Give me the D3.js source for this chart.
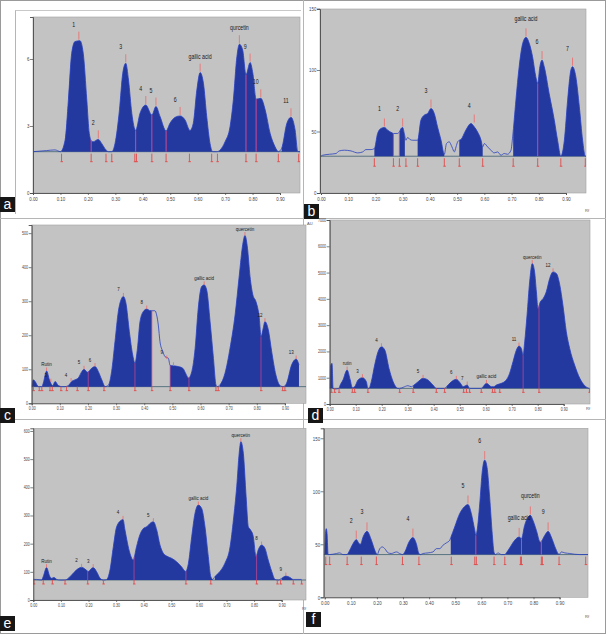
<!DOCTYPE html>
<html>
<head>
<meta charset="utf-8">
<script src="https://cdn.jsdelivr.net/npm/d3@7"></script>
<style>
  body { margin: 0; background: #fff; }
  svg { display: block; }
  text { font-family: "Liberation Sans", Arial, sans-serif; }
</style>
</head>
<body>
<svg id="chart" width="606" height="634"></svg>
<script>
// Rf ticks shared by all six densitograms
const rfTicks = [0, 0.1, 0.2, 0.3, 0.4, 0.5, 0.6, 0.7, 0.8, 0.9];
const rfLabels = ["0.00", "0.10", "0.20", "0.30", "0.40", "0.50", "0.60", "0.70", "0.80", "0.90"];

// ---- panel a ----
const aBase = 18.5;
const aTrace = [[0,18.5],[0.05,19.0],[0.08,19.3],[0.10,18.5],[0.117,23.7],[0.129,41.7],[0.141,62.6],[0.153,67.8],[0.171,68.2],[0.183,62.6],[0.196,41.7],[0.205,26.7],[0.214,23.0],[0.220,23.0],[0.238,24.0],[0.250,22.2],[0.266,19.3],[0.275,18.5],[0.287,18.5],[0.299,22.2],[0.315,37.2],[0.327,53.6],[0.338,58.1],[0.348,50.6],[0.360,35.7],[0.374,28.0],[0.390,35.7],[0.411,39.4],[0.433,34.9],[0.448,38.7],[0.463,34.2],[0.485,27.8],[0.499,31.2],[0.518,33.9],[0.536,34.5],[0.554,32.7],[0.572,28.0],[0.584,31.2],[0.597,46.1],[0.609,53.9],[0.621,49.1],[0.633,34.2],[0.645,22.2],[0.655,18.5],[0.670,18.5],[0.682,19.3],[0.700,23.0],[0.718,29.7],[0.730,41.7],[0.743,61.1],[0.752,66.6],[0.764,64.0],[0.776,52.9],[0.791,58.4],[0.801,53.6],[0.813,42.0],[0.830,42.4],[0.846,37.2],[0.864,26.7],[0.882,20.7],[0.894,18.5],[0.906,20.0],[0.925,31.2],[0.940,33.9],[0.955,28.2],[0.965,18.5],[0.973,18.5]];
const aFills = [[0.104,0.275],[0.287,0.655],[0.676,0.894],[0.906,0.965]];
const aMarks = [0.104,0.212,0.266,0.287,0.371,0.377,0.433,0.485,0.570,0.651,0.672,0.776,0.813,0.894,0.968];
const aSplits = [0.212,0.374,0.433,0.485,0.776,0.813];
const aPeaks = [[0.167,68.2,"1"],[0.238,24.0,"2"],[0.338,58.1,"3"],[0.411,39.4,"4"],[0.448,38.7,"5"],[0.536,34.5,"6"],[0.609,53.9,"gallic acid"],[0.752,66.6,"qurcetin"],[0.791,58.4,"9"],[0.830,42.4,"10"],[0.940,33.9,"11"]];
const aYTicks = [0, 30, 60];
const aYLabels = ["0", "3", "6"];

// ---- panel b ----
const bBase = 29.9;
const bTrace = [[0,29.9],[0.006,30.7],[0.031,31.5],[0.055,32.1],[0.067,34.2],[0.086,34.8],[0.110,34.2],[0.135,32.6],[0.153,33.4],[0.165,35.3],[0.184,35.3],[0.196,36.1],[0.208,48.4],[0.220,52.4],[0.233,53.3],[0.245,51.1],[0.261,48.9],[0.266,48.4],[0.282,48.4],[0.288,49.7],[0.294,52.4],[0.300,53.3],[0.306,48.4],[0.312,42.9],[0.318,45.1],[0.327,43.5],[0.337,42.9],[0.349,42.9],[0.355,42.9],[0.367,59.2],[0.379,63.3],[0.392,64.7],[0.404,68.7],[0.416,64.7],[0.428,53.8],[0.441,42.9],[0.453,31.5],[0.461,40.2],[0.471,41.6],[0.481,37.5],[0.490,33.4],[0.496,37.5],[0.502,41.6],[0.508,42.9],[0.514,43.5],[0.532,51.1],[0.551,56.5],[0.563,53.8],[0.575,49.7],[0.588,42.9],[0.594,37.5],[0.600,40.2],[0.612,37.5],[0.624,34.8],[0.636,32.6],[0.649,33.4],[0.661,30.7],[0.673,32.1],[0.685,31.5],[0.698,34.8],[0.704,45.6],[0.716,75.5],[0.728,102.7],[0.741,121.7],[0.753,126.6],[0.765,121.7],[0.777,110.9],[0.789,94.6],[0.796,89.1],[0.804,102.7],[0.812,108.1],[0.820,102.7],[0.838,81.0],[0.857,59.2],[0.869,42.9],[0.881,29.9],[0.894,42.9],[0.906,75.5],[0.918,100.0],[0.924,102.7],[0.936,94.6],[0.949,70.1],[0.961,42.9],[0.971,29.9],[0.973,29.9]];
const bFills = [[0.196,0.266],[0.288,0.308],[0.355,0.453],[0.508,0.594],[0.706,0.971]];
const bMarks = [0.196,0.266,0.288,0.312,0.355,0.453,0.508,0.594,0.706,0.796,0.881,0.971];
const bSplits = [0.266,0.288,0.796];
const bPeaks = [[0.233,53.3,"1"],[0.300,53.3,"2"],[0.404,68.7,"3"],[0.563,56.5,"4"],[0.753,126.6,"gallic acid"],[0.812,108.1,"6"],[0.924,102.7,"7"]];
const bYTicks = [0, 50, 100, 150];
const bYLabels = ["0", "50", "100", "150"];

// ---- panel c ----
const cBase = 49;
const cTrace = [[0,49],[0.006,69],[0.012,64],[0.024,49],[0.036,49],[0.041,59],[0.053,95],[0.063,69],[0.068,59],[0.075,52],[0.083,64],[0.095,52],[0.107,49],[0.118,49],[0.130,52],[0.142,64],[0.154,69],[0.166,75],[0.178,93],[0.186,100],[0.198,91],[0.213,103],[0.225,108],[0.237,93],[0.249,69],[0.261,49],[0.273,54],[0.284,93],[0.296,181],[0.308,270],[0.320,309],[0.326,314],[0.335,294],[0.347,211],[0.359,142],[0.367,118],[0.376,162],[0.385,240],[0.397,270],[0.409,277],[0.418,273],[0.427,272],[0.438,272],[0.444,260],[0.450,230],[0.456,181],[0.466,152],[0.474,137],[0.486,132],[0.492,111],[0.504,110],[0.521,108],[0.537,103],[0.549,85],[0.557,74],[0.569,93],[0.581,162],[0.592,279],[0.604,343],[0.613,348],[0.622,333],[0.634,240],[0.646,132],[0.655,54],[0.660,49],[0.669,54],[0.687,88],[0.705,162],[0.723,260],[0.738,377],[0.750,466],[0.758,493],[0.767,456],[0.776,373],[0.786,319],[0.797,299],[0.809,250],[0.815,196],[0.823,221],[0.829,240],[0.841,216],[0.853,152],[0.868,83],[0.883,52],[0.895,49],[0.906,59],[0.924,113],[0.940,130],[0.950,113]];
const cFills = [[0,0.107],[0.130,0.261],[0.273,0.427],[0.492,0.655],[0.669,0.883],[0.900,0.960]];
const cMarks = [0.006,0.027,0.036,0.065,0.073,0.104,0.124,0.162,0.201,0.257,0.367,0.427,0.492,0.559,0.655,0.663,0.815,0.892,0.900];
const cSplits = [0.201,0.367,0.427,0.492,0.559,0.815];
const cPeaks = [[0.053,95,"Rutin"],[0.068,62,"3"],[0.140,64,"4"],[0.186,100,"5"],[0.225,108,"6"],[0.326,314,"7"],[0.409,277,"8"],[0.480,130,"9"],[0.504,110,""],[0.613,348,"gallic acid"],[0.758,493,"quercetin"],[0.829,240,"12"],[0.940,130,"13"]];
const cYTicks = [0, 100, 200, 300, 400, 500];
const cYLabels = ["0", "100", "200", "300", "400", "500"];

// ---- panel d ----
const dBase = 595;
const dTrace = [[0,595],[0.004,1481],[0.009,1545],[0.013,595],[0.019,570],[0.036,595],[0.038,658],[0.051,912],[0.067,1291],[0.079,912],[0.087,620],[0.096,658],[0.109,912],[0.126,1000],[0.141,848],[0.147,595],[0.151,595],[0.160,848],[0.173,1481],[0.186,1988],[0.199,2178],[0.212,2051],[0.228,1355],[0.244,848],[0.263,595],[0.269,595],[0.282,633],[0.301,696],[0.314,658],[0.321,696],[0.340,848],[0.359,975],[0.378,912],[0.397,722],[0.410,595],[0.423,595],[0.442,595],[0.449,658],[0.468,848],[0.487,937],[0.503,785],[0.513,658],[0.522,696],[0.529,722],[0.538,595],[0.551,595],[0.583,595],[0.590,658],[0.603,785],[0.622,658],[0.631,658],[0.641,722],[0.660,785],[0.679,912],[0.692,1165],[0.705,1608],[0.718,2051],[0.728,2203],[0.737,2114],[0.744,1861],[0.750,2367],[0.759,3380],[0.769,4646],[0.779,5343],[0.788,5026],[0.795,4266],[0.801,3633],[0.810,3887],[0.821,4013],[0.833,4266],[0.846,4773],[0.859,5026],[0.872,4963],[0.885,4520],[0.897,3760],[0.910,2747],[0.923,2114],[0.942,1481],[0.962,975],[0.981,696],[0.997,595]];
const dFills = [[0,0.013],[0.036,0.147],[0.151,0.263],[0.321,0.410],[0.449,0.538],[0.583,0.997]];
const dMarks = [0.006,0.019,0.036,0.087,0.096,0.147,0.269,0.321,0.410,0.442,0.515,0.526,0.538,0.583,0.626,0.635,0.654,0.744,0.805,0.999];
const dSplits = [0.744,0.805];
const dPeaks = [[0.067,1291,"rutin"],[0.126,1000,"3"],[0.199,2178,"4"],[0.359,975,"5"],[0.487,937,"6"],[0.529,722,"7"],[0.603,785,"gallic acid"],[0.728,2203,"11"],[0.779,5343,"quercetin"],[0.859,5026,"12"]];
const dYTicks = [0, 1000, 2000, 3000, 4000, 5000, 6000, 7000];
const dYLabels = ["0", "1000", "2000", "3000", "4000", "5000", "6000", "7000"];

// ---- panel e ----
const eBase = 71;
const eTrace = [[0,73],[0.012,73],[0.030,71],[0.036,83],[0.048,115],[0.060,83],[0.066,77],[0.075,80],[0.085,73],[0.097,71],[0.115,71],[0.121,73],[0.139,89],[0.157,107],[0.175,116],[0.191,107],[0.199,101],[0.211,112],[0.217,115],[0.229,101],[0.242,77],[0.254,71],[0.266,73],[0.278,107],[0.290,189],[0.302,260],[0.320,284],[0.325,286],[0.332,249],[0.350,166],[0.362,142],[0.374,189],[0.386,231],[0.399,254],[0.411,260],[0.423,272],[0.435,278],[0.447,249],[0.459,195],[0.471,166],[0.483,156],[0.501,148],[0.519,136],[0.537,118],[0.552,101],[0.562,130],[0.574,225],[0.586,308],[0.598,337],[0.610,325],[0.622,260],[0.634,154],[0.643,83],[0.650,73],[0.658,83],[0.676,101],[0.694,130],[0.713,189],[0.725,284],[0.737,402],[0.746,521],[0.752,562],[0.761,521],[0.771,367],[0.779,260],[0.787,249],[0.797,225],[0.807,154],[0.815,178],[0.827,195],[0.839,184],[0.851,142],[0.864,101],[0.876,73],[0.888,71],[0.900,77],[0.915,85],[0.930,80],[0.942,73],[0.972,73]];
const eFills = [[0.030,0.085],[0.115,0.254],[0.266,0.650],[0.658,0.888],[0.900,0.942]];
const eMarks = [0.002,0.036,0.069,0.115,0.197,0.254,0.365,0.553,0.643,0.809,0.884,0.896,0.942,0.972];
const eSplits = [0.197,0.365,0.553,0.809];
const ePeaks = [[0.048,115,"Rutin"],[0.175,116,"2"],[0.217,115,"3"],[0.325,286,"4"],[0.435,278,"5"],[0.598,337,"gallic acid"],[0.752,562,"quercetin"],[0.827,195,"8"],[0.915,85,"9"]];
const eYTicks = [0, 100, 200, 300, 400, 500, 600];
const eYLabels = ["0", "100", "200", "300", "400", "500", "600"];

// ---- panel f ----
const fBase = 40.3;
const fTrace = [[0,40.3],[0.004,63.1],[0.006,64.7],[0.009,60.0],[0.013,40.3],[0.019,40.3],[0.045,41.3],[0.057,41.9],[0.070,40.3],[0.086,40.3],[0.089,41.3],[0.102,47.5],[0.115,53.1],[0.121,54.4],[0.132,50.6],[0.137,50.0],[0.147,56.9],[0.162,62.2],[0.179,53.8],[0.192,44.4],[0.201,40.3],[0.211,45.9],[0.221,47.5],[0.230,45.9],[0.243,41.9],[0.255,41.3],[0.275,42.8],[0.287,41.3],[0.298,40.3],[0.307,42.8],[0.323,52.2],[0.338,56.3],[0.351,50.6],[0.361,41.3],[0.367,40.3],[0.377,41.3],[0.396,41.9],[0.415,42.8],[0.428,45.9],[0.441,45.9],[0.453,49.1],[0.466,51.3],[0.479,53.8],[0.483,56.3],[0.498,66.3],[0.517,78.8],[0.536,85.6],[0.549,87.5],[0.562,78.8],[0.575,63.1],[0.579,58.4],[0.584,63.1],[0.594,88.1],[0.604,119.4],[0.613,129.4],[0.622,122.5],[0.632,94.4],[0.642,59.4],[0.649,42.2],[0.655,40.3],[0.664,41.9],[0.677,40.3],[0.690,40.3],[0.696,41.9],[0.711,47.5],[0.728,53.8],[0.745,56.9],[0.754,55.3],[0.766,67.8],[0.779,75.6],[0.788,77.2],[0.798,72.5],[0.811,63.1],[0.826,51.9],[0.843,58.4],[0.856,62.2],[0.868,56.9],[0.885,45.9],[0.898,40.3],[0.907,42.8],[0.920,41.9],[0.939,41.3],[0.958,40.6],[0.977,40.3],[1.009,40.3]];
const fFills = [[0,0.013],[0.086,0.201],[0.298,0.367],[0.483,0.655],[0.690,0.898]];
const fMarks = [0.004,0.019,0.086,0.140,0.198,0.298,0.361,0.485,0.575,0.581,0.649,0.690,0.750,0.754,0.830,0.834,0.898,1.0];
const fSplits = [0.579,0.754,0.830];
const fPeaks = [[0.121,54.4,"2"],[0.162,62.2,"3"],[0.338,56.3,"4"],[0.549,87.5,"5"],[0.613,129.4,"6"],[0.745,56.9,"gallic acid"],[0.788,77.2,"qurcetin"],[0.856,62.2,"9"]];
const fYTicks = [0, 50, 100, 150];
const fYLabels = ["0", "50", "100", "150"];

// Page geometry for each panel (pixels)
const panels = [
  {id: 'a', trace: aTrace, base: aBase, fills: aFills, marks: aMarks, splits: aSplits, peaks: aPeaks, yTicks: aYTicks, yLabels: aYLabels,
   box: {left: 33, right: 300, top: 17, bottom: 193, x0: 33, x90: 280, yTop: 78.8, tag: [0, 197], lift: 14, big: true}},
  {id: 'b', trace: bTrace, base: bBase, fills: bFills, marks: bMarks, splits: bSplits, peaks: bPeaks, yTicks: bYTicks, yLabels: bYLabels,
   box: {left: 320, right: 586, top: 9, bottom: 193, x0: 321, x90: 566, yTop: 149.6, tag: [304, 204], lift: 16, big: true, rf: [585, 212]}},
  {id: 'c', trace: cTrace, base: cBase, fills: cFills, marks: cMarks, splits: cSplits, peaks: cPeaks, yTicks: cYTicks, yLabels: cYLabels,
   box: {left: 31.7, right: 306, top: 225, bottom: 403.3, x0: 31.7, x90: 284.9, yTop: 524, tag: [0, 408], lift: 5, big: false}},
  {id: 'd', trace: dTrace, base: dBase, fills: dFills, marks: dMarks, splits: dSplits, peaks: dPeaks, yTicks: dYTicks, yLabels: dYLabels,
   box: {left: 329.7, right: 590, top: 220, bottom: 404, x0: 329.7, x90: 563.7, yTop: 7000, tag: [308, 408], lift: 5, big: false, rf: [586, 410], au: [307, 225]}},
  {id: 'e', trace: eTrace, base: eBase, fills: eFills, marks: eMarks, splits: eSplits, peaks: ePeaks, yTicks: eYTicks, yLabels: eYLabels,
   box: {left: 33.3, right: 306, top: 428.3, bottom: 600, x0: 33.3, x90: 281.7, yTop: 609.5, tag: [0, 616], lift: 5, big: false, rf: [302, 610]}},
  {id: 'f', trace: fTrace, base: fBase, fills: fFills, marks: fMarks, splits: fSplits, peaks: fPeaks, yTicks: fYTicks, yLabels: fYLabels,
   box: {left: 323.7, right: 588, top: 428.3, bottom: 597.3, x0: 324.7, x90: 559.6, yTop: 159.4, tag: [306, 612], lift: 17, big: true, rf: [585, 618]}}
];

const svg = d3.select('#chart');
const defs = svg.append('defs');

// figure frame and panel separators
svg.append('rect').attr('x', 0.5).attr('y', 0.5).attr('width', 605).attr('height', 633)
  .attr('fill', '#fff').attr('stroke', '#9a9a9a');
svg.append('line').attr('x1', 303.5).attr('x2', 303.5).attr('y1', 0).attr('y2', 634).attr('stroke', '#b5b5b5');
[218.5, 419.5].forEach(yy => {
  svg.append('line').attr('x1', 0).attr('x2', 606).attr('y1', yy).attr('y2', yy).attr('stroke', '#b5b5b5');
});
svg.append('line').attr('x1', 15.5).attr('x2', 15.5).attr('y1', 10).attr('y2', 214).attr('stroke', '#b5b5b5');
svg.append('line').attr('x1', 15.5).attr('x2', 301).attr('y1', 10.5).attr('y2', 10.5).attr('stroke', '#c8c8c8');

panels.forEach(drawPanel);

function valueAt(trace, rf) {
  const i = d3.bisector(d => d[0]).left(trace, rf);
  if (i <= 0) return trace[0][1];
  if (i >= trace.length) return trace[trace.length - 1][1];
  const p = trace[i - 1], q = trace[i];
  return p[1] + (q[1] - p[1]) * (rf - p[0]) / (q[0] - p[0]);
}

function drawPanel(p) {
  const L = p.box;
  const g = svg.append('g').attr('class', 'panel-' + p.id);

  const x = d3.scaleLinear().domain([0, 0.9]).range([L.x0, L.x90]);
  const y = d3.scaleLinear().domain([0, L.yTop]).range([L.bottom, L.top]);
  const yb = y(p.base);

  // grey plotting area
  g.append('rect')
    .attr('x', L.left).attr('y', L.top)
    .attr('width', L.right - L.left).attr('height', L.bottom - L.top)
    .attr('fill', '#c3c3c3').attr('stroke', '#a0a0a0').attr('stroke-width', 0.6);

  defs.append('clipPath').attr('id', 'plot-' + p.id)
    .append('rect')
    .attr('x', L.left).attr('y', L.top)
    .attr('width', L.right - L.left).attr('height', L.bottom - L.top);

  // only integrated peaks are filled
  defs.append('clipPath').attr('id', 'fill-' + p.id)
    .selectAll('rect')
    .data(p.fills)
    .join('rect')
    .attr('x', d => x(d[0]))
    .attr('width', d => x(d[1]) - x(d[0]))
    .attr('y', L.top)
    .attr('height', L.bottom - L.top);

  const inner = g.append('g').attr('clip-path', `url(#plot-${p.id})`);

  const area = d3.area()
    .x(d => x(d[0]))
    .y0(yb)
    .y1(d => y(d[1]))
    .curve(d3.curveMonotoneX);

  const line = d3.line()
    .x(d => x(d[0]))
    .y(d => y(d[1]))
    .curve(d3.curveMonotoneX);

  // baseline
  inner.append('line')
    .attr('x1', L.left).attr('x2', L.right)
    .attr('y1', yb).attr('y2', yb)
    .attr('stroke', '#3f6170').attr('stroke-width', 0.8);

  inner.append('g').attr('clip-path', `url(#fill-${p.id})`)
    .append('path')
    .datum(p.trace)
    .attr('d', area)
    .attr('fill', '#24399f');

  inner.append('path')
    .datum(p.trace)
    .attr('d', line)
    .attr('fill', 'none')
    .attr('stroke', '#2840c0')
    .attr('stroke-width', 0.8);

  // peak separators
  inner.selectAll('.split')
    .data(p.splits)
    .join('line')
    .attr('class', 'split')
    .attr('x1', d => x(d)).attr('x2', d => x(d))
    .attr('y1', yb)
    .attr('y2', d => y(valueAt(p.trace, d)))
    .attr('stroke', '#d0488e')
    .attr('stroke-width', L.big ? 1 : 0.7);

  // start / end marks below the baseline
  const m0 = L.big ? 2 : 0, m1 = L.big ? 10 : 4;
  const marks = inner.selectAll('.mark')
    .data(p.marks)
    .join('g')
    .attr('class', 'mark');
  marks.append('line')
    .attr('x1', d => x(d)).attr('x2', d => x(d))
    .attr('y1', yb + m0).attr('y2', yb + m1)
    .attr('stroke', '#e24a4a').attr('stroke-width', 0.9);
  marks.append('line')
    .attr('x1', d => x(d) - 1).attr('x2', d => x(d) + 1.5)
    .attr('y1', yb + m1).attr('y2', yb + m1)
    .attr('stroke', '#e24a4a').attr('stroke-width', 0.9);

  // peak maxima ticks
  inner.selectAll('.ptick')
    .data(p.peaks)
    .join('line')
    .attr('class', 'ptick')
    .attr('x1', d => x(d[0])).attr('x2', d => x(d[0]))
    .attr('y1', d => y(d[1]) - (L.big ? 1 : 0))
    .attr('y2', d => y(d[1]) - (L.big ? 9 : 3.5))
    .attr('stroke', '#ee6a6a')
    .attr('stroke-width', 0.8);

  // peak names
  const fs = L.big ? 7.5 : 5;
  const sx = L.big ? 0.7 : 0.9;
  g.selectAll('.plabel')
    .data(p.peaks.filter(d => d[2] !== ''))
    .join('text')
    .attr('class', 'plabel')
    .attr('transform', d => {
      const dx = d[2].length <= 2 ? -5 : 0;
      return `translate(${x(d[0]) + dx},${y(d[1]) - L.lift}) scale(${sx},1)`;
    })
    .attr('text-anchor', 'middle')
    .attr('font-size', fs)
    .attr('fill', '#1a1a1a')
    .text(d => d[2]);

  // axes
  const tfs = L.big ? 5.5 : 4.5;
  const xAxis = g.append('g')
    .attr('transform', `translate(0,${L.bottom})`)
    .call(d3.axisBottom(x)
      .tickValues(rfTicks)
      .tickFormat((d, i) => rfLabels[i])
      .tickSize(2)
      .tickPadding(2));
  const yAxis = g.append('g')
    .attr('transform', `translate(${L.left},0)`)
    .call(d3.axisLeft(y)
      .tickValues(p.yTicks)
      .tickFormat((d, i) => p.yLabels[i])
      .tickSize(3)
      .tickPadding(1.5));

  [xAxis, yAxis].forEach(ax => {
    ax.select('.domain').attr('stroke', '#4a4a4a').attr('stroke-width', 0.9);
    ax.selectAll('.tick line').attr('stroke', '#4a4a4a').attr('stroke-width', 0.7);
    ax.selectAll('text')
      .attr('font-size', tfs)
      .attr('fill', '#444')
      .attr('font-family', '"Liberation Sans", Arial, sans-serif');
  });
  xAxis.selectAll('text').attr('transform', 'scale(0.8,1)');
  yAxis.selectAll('text').attr('transform', 'scale(0.8,1)');

  if (L.rf) {
    g.append('text').attr('x', L.rf[0]).attr('y', L.rf[1])
      .attr('font-size', 4).attr('fill', '#555').text('Rf');
  }
  if (L.au) {
    g.append('text').attr('x', L.au[0]).attr('y', L.au[1])
      .attr('font-size', 4).attr('fill', '#555').text('AU');
  }

  // panel letter
  g.append('rect')
    .attr('x', L.tag[0]).attr('y', L.tag[1])
    .attr('width', 15).attr('height', 15)
    .attr('fill', '#161616');
  g.append('text')
    .attr('x', L.tag[0] + 7.5).attr('y', L.tag[1] + 12)
    .attr('text-anchor', 'middle')
    .attr('font-size', 14)
    .attr('fill', '#fff')
    .text(p.id);
}
</script>
</body>
</html>
